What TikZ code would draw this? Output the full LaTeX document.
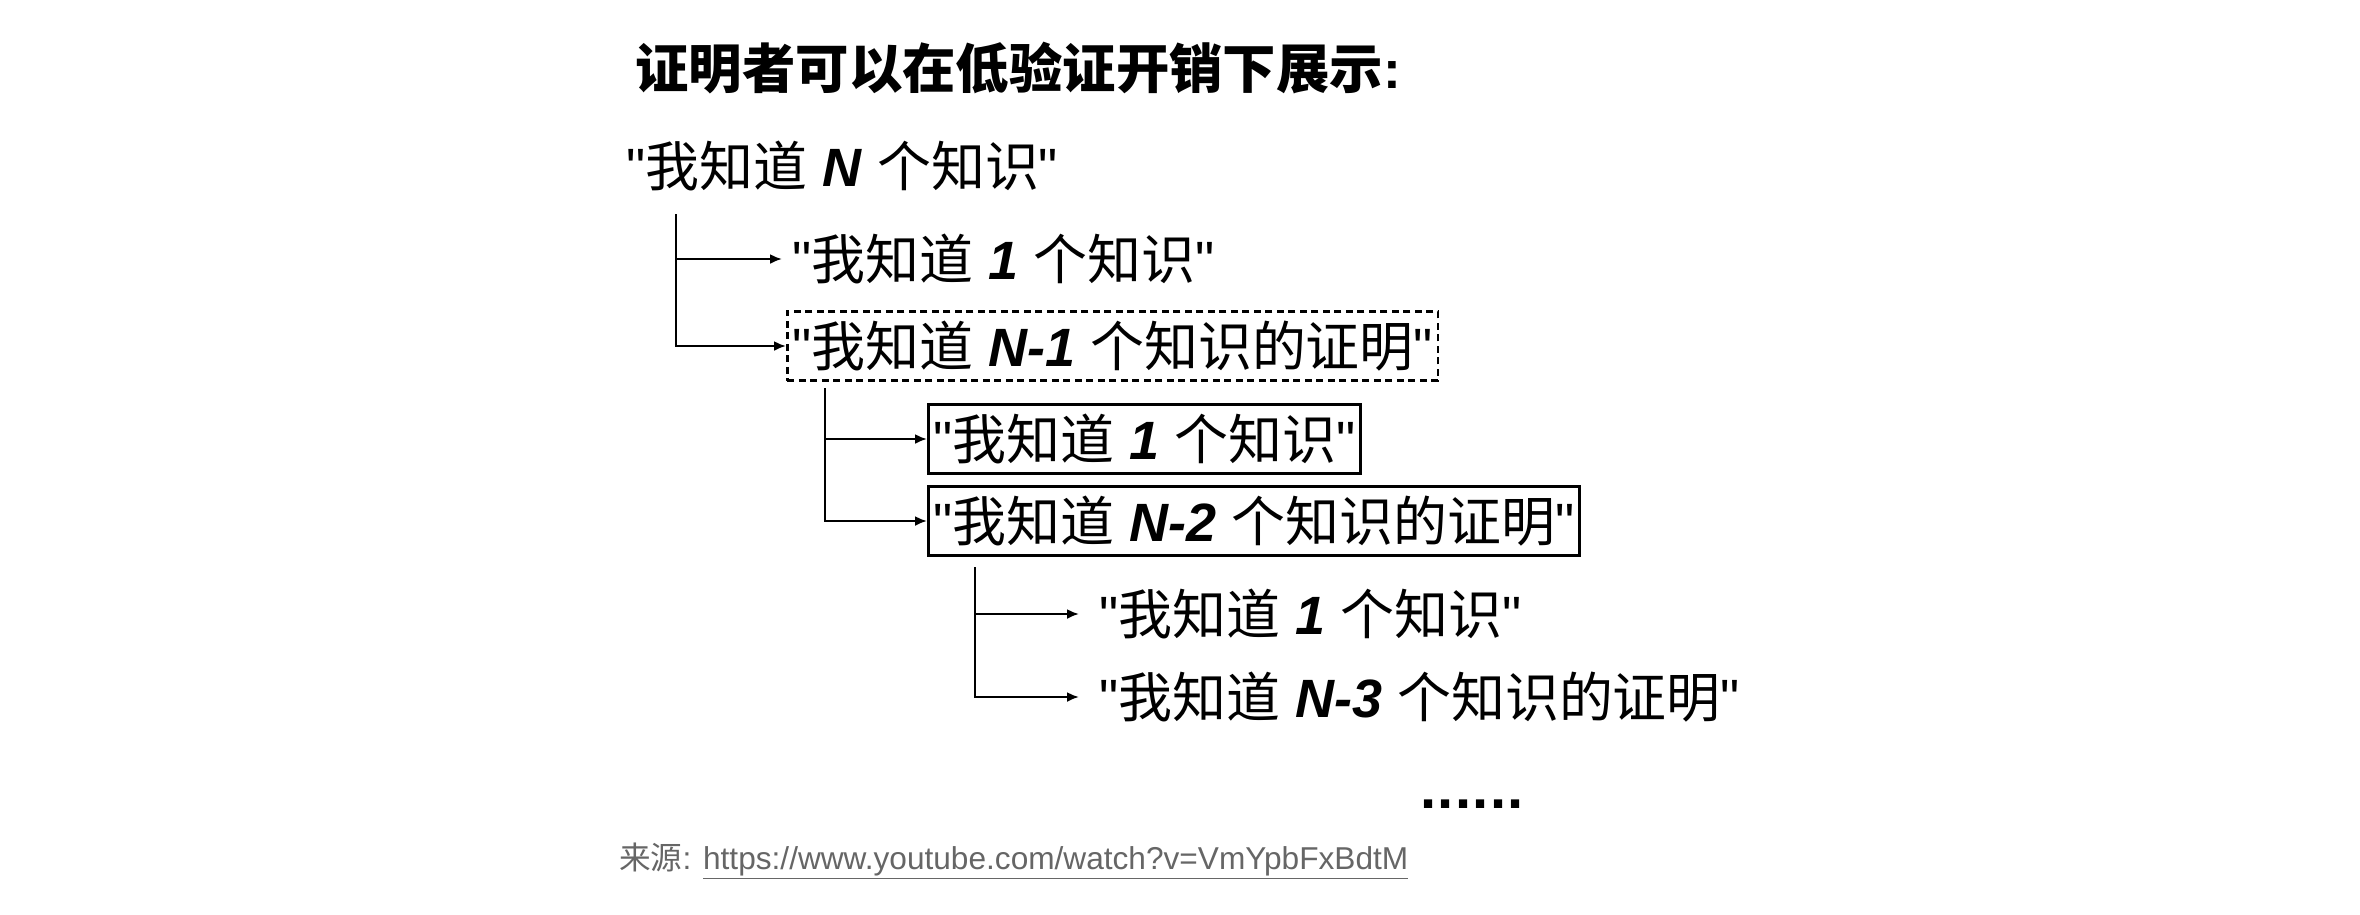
\documentclass[tikz,border=0pt]{standalone}
\usepackage{fontspec}
\setmainfont{Liberation Sans}
\newfontfamily\plain{Liberation Sans}
\newfontfamily\cjk{Noto Sans CJK SC}
\usetikzlibrary{arrows.meta}

\newcommand{\dq}{{\plain"}}
\newcommand{\knows}[1]{\dq{\cjk 我知道} \textbf{\textit{#1}} {\cjk 个知识}\dq}
\newcommand{\knowsproof}[1]{\dq{\cjk 我知道} \textbf{\textit{#1}} {\cjk 个知识的证明}\dq}

\tikzset{
  claim/.style={anchor=west, inner xsep=0.2cm, inner ysep=0pt, font=\fontsize{30.7}{37}\selectfont},
  claimbox/.style={claim, draw, inner xsep=0.1cm, line width=0.066cm, minimum height=1.38cm},
  dashbox/.style={claimbox, line width=0.055cm, dash pattern=on 0.14cm off 0.09cm},
  fork/.style={-{Latex[length=0.24cm,width=0.2cm]}, line width=0.045cm},
}

\begin{document}
\begin{tikzpicture}[x=0.02cm, y=-0.02cm]
\useasboundingbox (0,0) rectangle (2360,914);

\node[claim, font=\fontsize{30.4}{37}\selectfont\bfseries] (title) at (625,68) {{\cjk 证明者可以在低验证开销下展示}:};
\node[claim] (top) at (616,166) {\knows{N}};

% first level
\coordinate (fork1) at (676,214);
\node[claim] (one1) at (782,259) {\knows{1}};
\node[dashbox] (rest1) at (786,346) {\knowsproof{N-1}};
\draw[fork] (fork1) |- (one1);
\draw[fork] (fork1) |- (rest1);

% second level
\coordinate (fork2) at (825,388);
\node[claimbox] (one2) at (927,439) {\knows{1}};
\node[claimbox] (rest2) at (927,521) {\knowsproof{N-2}};
\draw[fork] (fork2) |- (one2);
\draw[fork] (fork2) |- (rest2);

% third level
\coordinate (fork3) at (975,567);
\node[claim] (one3) at (1089,614) {\knows{1}};
\node[claim] (rest3) at (1089,697) {\knowsproof{N-3}};
\draw[fork, shorten >=0.2cm] (fork3) |- (one3);
\draw[fork, shorten >=0.2cm] (fork3) |- (rest3);

\node[claim, anchor=base west, inner xsep=0pt, font=\fontsize{33}{37}\selectfont\bfseries] (dots) at (1420,808) {.\hspace{0.8pt}.\hspace{0.8pt}.\hspace{0.8pt}.\hspace{0.8pt}.\hspace{0.8pt}.};

\node[anchor=west, inner sep=0pt, text=black!60, font=\fontsize{18}{22}\selectfont] (source) at (619,861) {{\cjk 来源}: \underline{https://www.youtube.com/watch?v=VmYpbFxBdtM}};
\end{tikzpicture}
\end{document}
